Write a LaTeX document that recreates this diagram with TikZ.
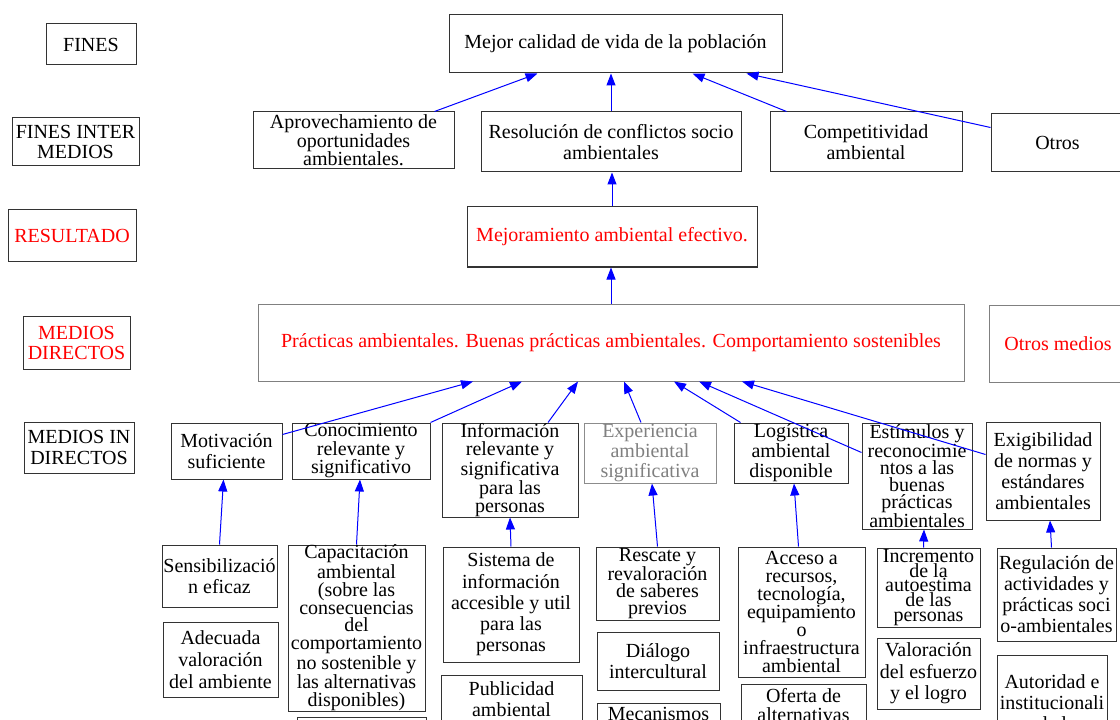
\documentclass[tikz,border=0pt]{standalone}
\usepackage{fontspec}
\setmainfont{Liberation Serif}
\usetikzlibrary{calc}
\usetikzlibrary{arrows.meta}
\newcommand{\caja}[7][]{\node[caja,#1,minimum width={(#5-#3)*0.75pt},minimum height={(#6-#4)*0.75pt}] (#2) at ({(#3+#5)/2},{(#4+#6)/2}) {#7};}
\newcommand{\cajacortada}[7][]{\node[caja,#1,anchor=north,inner ysep=#6,text depth=80pt,minimum width={(#5-#3)*0.75pt}] (#2) at ({(#3+#5)/2},#4) {#7};}
\tikzset{
  caja/.style={draw=black!80,line width=0.75pt,inner sep=0pt,align=center,font=\fontsize{15}{15.75}\selectfont},
  interlinea/.style={font=\fontsize{15}{#1}\selectfont},
  roja/.style={text=red},
  gris/.style={draw=black!45,text=black!50},
  borde/.style={draw=black!50},
  flecha/.style={draw=blue,line width=0.75pt,-{Triangle[length=9pt,width=6.75pt]}}
}

\begin{document}
\begin{tikzpicture}[x=0.75pt,y=-0.75pt]
    \path[use as bounding box,fill=white] (0,0) rectangle (1120,720);
    \clip (0,0) rectangle (1120,720);
    \caja{lfines}{46}{24}{136}{65}{FINES}
    \caja[interlinea=15pt]{lintermedios}{12}{118}{139}{166}{FINES INTER\\MEDIOS}
    \caja[roja]{lresultado}{8}{210}{136}{262}{RESULTADO}
    \caja[roja,interlinea=15pt]{ldirectos}{23}{316}{130}{369}{MEDIOS\\DIRECTOS}
    \caja[interlinea=16.25pt]{lindirectos}{24}{422}{134}{473}{MEDIOS IN\\DIRECTOS}
    \caja{mejor}{449}{15}{782}{73}{Mejor calidad de vida de la población}
    \caja[interlinea=14pt]{aprov}{253}{112}{454}{169}{Aprovechamiento de\\oportunidades\\ambientales.}
    \caja{resol}{481}{112}{741}{172}{Resolución de conflictos socio\\ambientales}
    \caja{compet}{770}{112}{962}{172}{Competitividad\\ambiental}
    \caja{otros}{991}{114}{1124}{172}{Otros}
    \caja[roja]{mejoram}{467}{207}{757}{267}{Mejoramiento ambiental efectivo.}
    \caja[roja,borde]{practicas}{258}{304}{964}{381}{Prácticas ambientales. Buenas prácticas ambientales. Comportamiento sostenibles}
    \caja[roja,borde]{otrosmed}{989}{305}{1127}{382}{Otros medios}
    \caja{motiv}{171}{423}{282}{479}{Motivación\\suficiente}
    \caja[interlinea=13.9pt]{conoc}{292}{423}{430}{479}{Conocimiento\\relevante y\\significativo}
    \caja[interlinea=13.4pt]{inform}{442}{423}{578}{517}{Información\\relevante y\\significativa\\para las\\personas}
    \caja[gris,interlinea=15pt]{exper}{584}{423}{716}{483}{Experiencia\\ambiental\\significativa}
    \caja[interlinea=15pt]{logist}{734}{423}{848}{483}{Logística\\ambiental\\disponible}
    \caja[interlinea=12.75pt]{estim}{862}{423}{972}{529}{Estímulos y\\reconocimie\\ntos a las\\buenas\\prácticas\\ambientales}
    \caja[interlinea=15.8pt]{exig}{986}{422}{1100}{520}{Exigibilidad\\de normas y\\estándares\\ambientales}
    \caja[interlinea=16.25pt]{sensib}{162}{545}{277}{607}{Sensibilizació\\n eficaz}
    \caja[interlinea=16.25pt]{adec}{163}{622}{278}{697}{Adecuada\\valoración\\del ambiente}
    \caja[interlinea=13.4pt]{capac}{288}{545}{425}{711}{Capacitación\\ambiental\\(sobre las\\consecuencias\\del\\comportamiento\\no sostenible y\\las alternativas\\disponibles)}
    \cajacortada{capacb}{297}{717}{426}{3pt}{}
    \caja[interlinea=15.9pt]{sistema}{443}{547}{579}{662}{Sistema de\\información\\accesible y util\\para las\\personas}
    \cajacortada{public}{441}{675}{582}{4.5pt}{Publicidad\\ambiental}
    \caja[interlinea=12.7pt]{rescate}{596}{547}{719}{620}{Rescate y\\revaloración\\de saberes\\previos}
    \caja[interlinea=16.25pt]{dialogo}{597}{632}{719}{690}{Diálogo\\intercultural}
    \cajacortada{mecan}{597}{703}{720}{3pt}{Mecanismos}
    \caja[interlinea=13.4pt]{acceso}{738}{547}{865}{677}{Acceso a\\recursos,\\tecnología,\\equipamiento\\o\\infraestructura\\ambiental}
    \cajacortada[interlinea=14.25pt]{oferta}{741}{684}{866}{3pt}{Oferta de\\alternativas}
    \caja[interlinea=11.06pt]{increm}{877}{548}{980}{627}{Incremento\\de la\\autoestima\\de las\\personas}
    \caja[interlinea=16.25pt]{valor}{877}{638}{980}{709}{Valoración\\del esfuerzo\\y el logro}
    \caja[interlinea=15.8pt]{regul}{997}{548}{1116}{641}{Regulación de\\actividades y\\prácticas soci\\o-ambientales}
    \cajacortada[interlinea=15.5pt]{autor}{997}{655}{1107}{14.5pt}{Autoridad e\\institucionali\\dad}
    \draw[flecha] ($(aprov.north east)+(-20,0)$) -- ($(mejor.south)+(-78,0)$);
    \draw[flecha] (resol.north) -- (resol.north |- mejor.south);
    \draw[flecha] ($(compet.north west)+(17,0)$) -- ($(mejor.south)+(77,0)$);
    \draw[flecha] ($(otros.north west)+(0,14)$) -- ($(mejor.south)+(131,0)$);
    \draw[flecha] (mejoram.north) -- (mejoram.north |- resol.south);
    \draw[flecha] (practicas.north) -- (practicas.north |- mejoram.south);
    \draw[flecha] ($(motiv.north east)+(0,12)$) -- ($(practicas.south)+(-138,0)$);
    \draw[flecha] (conoc.north east) -- ($(practicas.south)+(-89,0)$);
    \draw[flecha] ($(inform.north)+(38,0)$) -- ($(practicas.south)+(-33,0)$);
    \draw[flecha] ($(exper.north)+(-9,0)$) -- ($(practicas.south)+(13,0)$);
    \draw[flecha] ($(logist.north west)+(7,0)$) -- ($(practicas.south)+(63,0)$);
    \draw[flecha] ($(estim.north west)+(0,30)$) -- ($(practicas.south)+(88,0)$);
    \draw[flecha] ($(exig.north west)+(0,33)$) -- ($(practicas.south)+(131,0)$);
    \draw[flecha] (sensib.north) -- ($(motiv.south)+(-3,0)$);
    \draw[flecha] (capac.north) -- ($(conoc.south)+(-1,0)$);
    \draw[flecha] (sistema.north) -- (inform.south);
    \draw[flecha] (rescate.north) -- ($(exper.south)+(2,0)$);
    \draw[flecha] ($(acceso.north)+(-3,0)$) -- ($(logist.south)+(3,0)$);
    \draw[flecha] ($(increm.north)+(-5,0)$) -- ($(estim.south)+(7,0)$);
    \draw[flecha] ($(regul.north)+(-5,0)$) -- ($(exig.south)+(7,0)$);
\end{tikzpicture}
\end{document}
